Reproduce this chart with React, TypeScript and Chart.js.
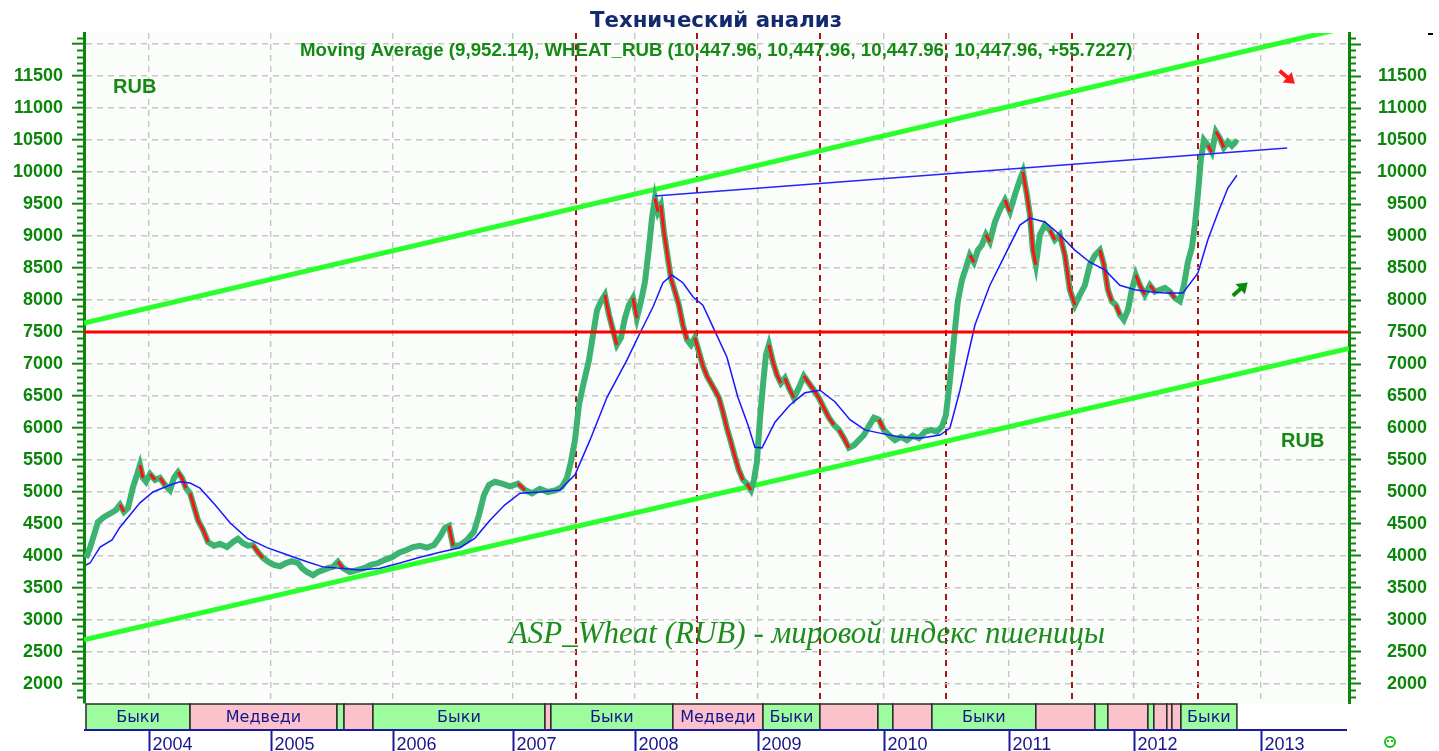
import React, { useEffect, useRef } from 'react';
import { Chart, registerables } from 'chart.js';

Chart.register(...registerables);

// ---------- DATA ----------
// The time axis is a trading-time axis: positions are in "chart years"
const X_MIN = 2003.474;
const X_MAX = 2013.71;
const Y_MIN = 1703;
const Y_MAX = 12172;

const titleText = 'Технический анализ';
const legendText = 'Moving Average (9,952.14), WHEAT_RUB (10,447.96, 10,447.96, 10,447.96, 10,447.96, +55.7227)';
const captionText = 'ASP_Wheat (RUB) - мировой индекс пшеницы';
const unitText = 'RUB';

const yearLabels = ['2004', '2005', '2006', '2007', '2008', '2009', '2010', '2011', '2012', '2013'];
const yearStarts = [2004.0, 2004.987, 2005.974, 2006.945, 2007.932, 2008.927, 2009.947, 2010.958, 2011.969, 2012.997];
const cycleMarks = [2007.455, 2008.434, 2009.429, 2010.448, 2011.468, 2012.487];
const valueTicks = [2000, 2500, 3000, 3500, 4000, 4500, 5000, 5500, 6000, 6500, 7000, 7500, 8000, 8500, 9000, 9500, 10000, 10500, 11000, 11500, 12000];

const priceYears = [
  2003.490, 2003.523, 2003.555, 2003.587, 2003.636, 2003.684, 2003.733, 2003.765, 2003.798, 2003.830,
  2003.871, 2003.903, 2003.927, 2003.951, 2003.976, 2004.008, 2004.049, 2004.089, 2004.129, 2004.170,
  2004.202, 2004.235, 2004.267, 2004.299, 2004.332, 2004.364, 2004.396, 2004.437, 2004.477, 2004.526,
  2004.574, 2004.631, 2004.680, 2004.720, 2004.761, 2004.801, 2004.841, 2004.882, 2004.922, 2004.963,
  2005.011, 2005.060, 2005.108, 2005.157, 2005.206, 2005.238, 2005.278, 2005.327, 2005.367, 2005.408,
  2005.448, 2005.489, 2005.529, 2005.570, 2005.626, 2005.683, 2005.739, 2005.796, 2005.853, 2005.909,
  2005.966, 2006.023, 2006.079, 2006.136, 2006.193, 2006.249, 2006.306, 2006.354, 2006.395, 2006.427,
  2006.460, 2006.516, 2006.573, 2006.629, 2006.670, 2006.710, 2006.751, 2006.799, 2006.856, 2006.921,
  2006.985, 2007.042, 2007.099, 2007.163, 2007.228, 2007.293, 2007.341, 2007.382, 2007.414, 2007.447,
  2007.479, 2007.519, 2007.560, 2007.592, 2007.625, 2007.657, 2007.689, 2007.722, 2007.754, 2007.786,
  2007.819, 2007.851, 2007.883, 2007.916, 2007.948, 2007.981, 2008.013, 2008.045, 2008.070, 2008.094,
  2008.118, 2008.142, 2008.167, 2008.191, 2008.223, 2008.256, 2008.288, 2008.320, 2008.353, 2008.385,
  2008.417, 2008.450, 2008.482, 2008.515, 2008.547, 2008.579, 2008.612, 2008.644, 2008.676, 2008.709,
  2008.741, 2008.773, 2008.806, 2008.838, 2008.871, 2008.895, 2008.919, 2008.943, 2008.968, 2008.992,
  2009.016, 2009.049, 2009.081, 2009.113, 2009.146, 2009.178, 2009.218, 2009.259, 2009.299, 2009.340,
  2009.380, 2009.421, 2009.461, 2009.502, 2009.542, 2009.583, 2009.623, 2009.663, 2009.704, 2009.744,
  2009.785, 2009.825, 2009.866, 2009.906, 2009.947, 2009.987, 2010.036, 2010.084, 2010.133, 2010.181,
  2010.230, 2010.278, 2010.327, 2010.375, 2010.416, 2010.448, 2010.481, 2010.513, 2010.545, 2010.578,
  2010.610, 2010.642, 2010.675, 2010.707, 2010.739, 2010.772, 2010.804, 2010.845, 2010.885, 2010.926,
  2010.966, 2011.006, 2011.047, 2011.071, 2011.104, 2011.128, 2011.152, 2011.176, 2011.209, 2011.249,
  2011.290, 2011.330, 2011.370, 2011.411, 2011.451, 2011.492, 2011.532, 2011.573, 2011.613, 2011.654,
  2011.694, 2011.727, 2011.759, 2011.791, 2011.824, 2011.856, 2011.888, 2011.921, 2011.953, 2011.985,
  2012.018, 2012.058, 2012.099, 2012.139, 2012.180, 2012.220, 2012.261, 2012.301, 2012.341, 2012.374,
  2012.406, 2012.438, 2012.463, 2012.487, 2012.511, 2012.536, 2012.568, 2012.600, 2012.633, 2012.665,
  2012.697, 2012.730, 2012.762, 2012.794, 2012.811,
];
const priceValues = [
  3970, 4130, 4330, 4530, 4610, 4660, 4720, 4800, 4690, 4750,
  5080, 5270, 5420, 5220, 5160, 5280, 5190, 5220, 5110, 5030,
  5220, 5310, 5220, 5060, 4980, 4770, 4560, 4410, 4220, 4160,
  4190, 4140, 4220, 4270, 4200, 4160, 4170, 4060, 3970, 3910,
  3860, 3840, 3890, 3920, 3890, 3810, 3750, 3700, 3750, 3780,
  3810, 3830, 3910, 3810, 3750, 3780, 3810, 3860, 3890, 3940,
  3980, 4050, 4090, 4140, 4160, 4130, 4170, 4300, 4440, 4470,
  4160, 4170, 4250, 4380, 4640, 4950, 5110, 5160, 5130, 5090,
  5130, 5030, 4980, 5050, 5000, 5030, 5080, 5220, 5470, 5810,
  6360, 6720, 7060, 7450, 7840, 7980, 8080, 7770, 7530, 7300,
  7410, 7720, 7920, 8030, 7720, 7980, 8280, 8810, 9280, 9590,
  9380, 9480, 9060, 8750, 8340, 8130, 7920, 7610, 7380, 7300,
  7410, 7190, 6970, 6810, 6700, 6590, 6470, 6250, 6000, 5780,
  5550, 5340, 5190, 5130, 5030, 5190, 5470, 6130, 6670, 7140,
  7300, 7030, 6830, 6700, 6780, 6630, 6470, 6630, 6810, 6700,
  6590, 6470, 6310, 6160, 6050, 5970, 5840, 5690, 5730, 5810,
  5890, 6030, 6160, 6130, 5970, 5890, 5810, 5860, 5810, 5880,
  5840, 5940, 5970, 5940, 6020, 6200, 6750, 7380, 7980, 8310,
  8500, 8700, 8590, 8780, 8860, 9020, 8910, 9220, 9410, 9560,
  9380, 9640, 9880, 10000, 9640, 9330, 8780, 8550, 9020, 9170,
  9090, 8940, 9020, 8700, 8160, 7920, 8080, 8230, 8550, 8700,
  8780, 8550, 8160, 7980, 7920, 7770, 7690, 7840, 8160, 8390,
  8230, 8080, 8230, 8130, 8160, 8190, 8130, 8030, 7980, 8230,
  8590, 8810, 9170, 9640, 10190, 10500, 10420, 10310, 10630, 10530,
  10380, 10470, 10410, 10470, 10450,
];

const maYears = [
  2003.490, 2003.523, 2003.604, 2003.701, 2003.765, 2003.846, 2003.927, 2004.032, 2004.170, 2004.251,
  2004.332, 2004.413, 2004.534, 2004.655, 2004.793, 2004.955, 2005.117, 2005.278, 2005.408, 2005.545,
  2005.707, 2005.869, 2006.031, 2006.193, 2006.354, 2006.516, 2006.638, 2006.759, 2006.880, 2007.002,
  2007.163, 2007.325, 2007.447, 2007.568, 2007.706, 2007.867, 2007.972, 2008.078, 2008.159, 2008.231,
  2008.320, 2008.401, 2008.482, 2008.563, 2008.676, 2008.765, 2008.846, 2008.903, 2008.960, 2009.065,
  2009.186, 2009.307, 2009.429, 2009.550, 2009.672, 2009.793, 2009.914, 2010.076, 2010.238, 2010.400,
  2010.481, 2010.562, 2010.683, 2010.804, 2010.926, 2011.047, 2011.128, 2011.249, 2011.370, 2011.492,
  2011.613, 2011.735, 2011.856, 2011.977, 2012.099, 2012.220, 2012.366, 2012.487, 2012.568, 2012.649,
  2012.730, 2012.803,
];
const maValues = [
  3860, 3890, 4140, 4250, 4450, 4640, 4830, 5000, 5110, 5160,
  5140, 5060, 4800, 4520, 4280, 4130, 4020, 3910, 3830, 3810,
  3780, 3810, 3890, 3980, 4060, 4130, 4280, 4560, 4800, 4980,
  5000, 5030, 5270, 5810, 6480, 7060, 7480, 7890, 8270, 8390,
  8270, 8050, 7920, 7580, 7110, 6480, 6050, 5700, 5690, 6090,
  6360, 6550, 6590, 6410, 6130, 5970, 5920, 5860, 5840, 5890,
  6000, 6590, 7610, 8230, 8700, 9170, 9280, 9220, 9020, 8780,
  8590, 8470, 8230, 8160, 8130, 8110, 8110, 8420, 8940, 9360,
  9750, 9950,
];

const channelYears = [2003.474, 2013.71];
const upperChannel = [7640, 12267];
const lowerChannel = [2690, 7245];
const resistanceYears = [2008.094, 2013.21];
const resistanceValues = [9625, 10375];
const supportLevel = 7500;

const bandStarts = [2003.490, 2004.332, 2005.521, 2005.578, 2005.812, 2007.204, 2007.252, 2008.239, 2008.968, 2009.429, 2009.898, 2010.019, 2010.335, 2011.176, 2011.654, 2011.759, 2012.083, 2012.131, 2012.236, 2012.277, 2012.350];
const bandEnds = [2004.332, 2005.521, 2005.578, 2005.812, 2007.204, 2007.252, 2008.239, 2008.968, 2009.429, 2009.898, 2010.019, 2010.335, 2011.176, 2011.654, 2011.759, 2012.083, 2012.131, 2012.236, 2012.277, 2012.350, 2012.803];
const bandKinds = ['bull', 'bear', 'bull', 'bear', 'bull', 'bear', 'bull', 'bear', 'bull', 'bear', 'bull', 'bear', 'bull', 'bear', 'bull', 'bear', 'bull', 'bear', 'bear', 'bear', 'bull'];
const bandLabels = ['Быки', 'Медведи', '', '', 'Быки', '', 'Быки', 'Медведи', 'Быки', '', '', '', 'Быки', '', '', '', '', '', '', '', 'Быки'];

const downArrow = { year: 2013.21, value: 11480 };
const upArrow = { year: 2012.83, value: 8170 };

// ---------- STYLE ----------
const AXIS_GREEN = '#0a870a';
const NAVY = '#16168c';

const toPts = (xs: number[], ys: number[]) => xs.map((x, i) => ({ x, y: ys[i] }));
const isCycle = (v: number) => cycleMarks.some((m) => Math.abs(m - v) < 1e-6);

function drawArrow(ctx: CanvasRenderingContext2D, x: number, y: number, dx: number, dy: number, color: string) {
  const len = 20;
  const n = Math.hypot(dx, dy);
  const ux = dx / n;
  const uy = dy / n;
  const tipX = x + (ux * len) / 2;
  const tipY = y + (uy * len) / 2;
  const tailX = x - (ux * len) / 2;
  const tailY = y - (uy * len) / 2;
  ctx.save();
  ctx.strokeStyle = color;
  ctx.fillStyle = color;
  ctx.lineWidth = 4;
  ctx.beginPath();
  ctx.moveTo(tailX, tailY);
  ctx.lineTo(tipX - ux * 7, tipY - uy * 7);
  ctx.stroke();
  const px = -uy;
  const py = ux;
  ctx.beginPath();
  ctx.moveTo(tipX, tipY);
  ctx.lineTo(tipX - ux * 10 + px * 7, tipY - uy * 10 + py * 7);
  ctx.lineTo(tipX - ux * 10 - px * 7, tipY - uy * 10 - py * 7);
  ctx.closePath();
  ctx.fill();
  ctx.restore();
}

const decor = {
  id: 'decor',
  beforeDraw(chart: any) {
    const { ctx, chartArea } = chart;
    ctx.save();
    ctx.fillStyle = '#ffffff';
    ctx.fillRect(0, 0, chart.width, chart.height);
    ctx.fillStyle = '#fbfdfb';
    ctx.fillRect(chartArea.left, chartArea.top, chartArea.right - chartArea.left, chartArea.bottom - chartArea.top);
    ctx.restore();
  },
  afterDraw(chart: any) {
    const { ctx, chartArea } = chart;
    const xs = chart.scales.x;
    const ys = chart.scales.y;
    ctx.save();

    // minor ticks on both value axes
    ctx.strokeStyle = AXIS_GREEN;
    ctx.lineWidth = 2;
    for (let v = 1800; v <= 12100; v += 100) {
      if (v % 500 === 0) continue;
      const py = Math.round(ys.getPixelForValue(v)) + 0.5;
      ctx.beginPath();
      ctx.moveTo(chartArea.left - 7, py);
      ctx.lineTo(chartArea.left, py);
      ctx.moveTo(chartArea.right, py);
      ctx.lineTo(chartArea.right + 7, py);
      ctx.stroke();
    }

    // title
    ctx.fillStyle = '#142a6e';
    ctx.font = 'bold 21.3px "DejaVu Sans"';
    ctx.textAlign = 'center';
    ctx.textBaseline = 'middle';
    ctx.fillText(titleText, 716, 21);

    // legend line
    ctx.fillStyle = '#148a14';
    ctx.font = 'bold 18.7px "Liberation Sans"';
    ctx.textAlign = 'left';
    ctx.fillText(legendText, 300, 51);

    // unit labels
    ctx.font = 'bold 20px "Liberation Sans"';
    ctx.fillText(unitText, 113, 87);
    ctx.fillText(unitText, 1281, 441);

    // caption
    ctx.fillStyle = '#1c8c1c';
    ctx.font = 'italic 31px "Liberation Serif"';
    ctx.textAlign = 'center';
    ctx.fillText(captionText, 807, 635);

    // arrows
    drawArrow(ctx, xs.getPixelForValue(downArrow.year), ys.getPixelForValue(downArrow.value), 1, 0.85, '#ff1a1a');
    drawArrow(ctx, xs.getPixelForValue(upArrow.year), ys.getPixelForValue(upArrow.value), 1, -0.9, '#0a8a0a');

    // bulls / bears band
    const bandTop = chartArea.bottom + 1;
    const bandBottom = chartArea.bottom + 27;
    ctx.font = '16px "DejaVu Sans"';
    ctx.textAlign = 'center';
    ctx.textBaseline = 'middle';
    for (let i = 0; i < bandStarts.length; i++) {
      const x0 = xs.getPixelForValue(bandStarts[i]);
      const x1 = xs.getPixelForValue(bandEnds[i]);
      ctx.fillStyle = bandKinds[i] === 'bull' ? '#9dfc9d' : '#fbc2cc';
      ctx.fillRect(x0, bandTop, x1 - x0, bandBottom - bandTop);
      ctx.strokeStyle = '#2a2a2a';
      ctx.lineWidth = 1.5;
      ctx.strokeRect(x0, bandTop, x1 - x0, bandBottom - bandTop);
      if (bandLabels[i]) {
        ctx.fillStyle = NAVY;
        ctx.fillText(bandLabels[i], (x0 + x1) / 2, (bandTop + bandBottom) / 2 + 1);
      }
    }

    // time axis baseline + year labels
    ctx.strokeStyle = '#1a1aa0';
    ctx.lineWidth = 2;
    ctx.beginPath();
    ctx.moveTo(chartArea.left, bandBottom);
    ctx.lineTo(chartArea.right - 2, bandBottom);
    ctx.stroke();
    ctx.font = '18px "Liberation Sans"';
    ctx.textAlign = 'left';
    ctx.textBaseline = 'alphabetic';
    ctx.fillStyle = NAVY;
    for (let i = 0; i < yearStarts.length; i++) {
      const px = Math.round(xs.getPixelForValue(yearStarts[i])) + 0.5;
      ctx.beginPath();
      ctx.moveTo(px, bandBottom);
      ctx.lineTo(px, chart.height);
      ctx.stroke();
      ctx.fillText(yearLabels[i], px + 3, 750);
    }

    // small status smiley
    ctx.strokeStyle = '#22b822';
    ctx.lineWidth = 2;
    ctx.beginPath();
    ctx.arc(1390, 742, 5, 0, Math.PI * 2);
    ctx.stroke();
    ctx.fillStyle = '#22b822';
    ctx.fillRect(1387, 740, 2, 2);
    ctx.fillRect(1391, 740, 2, 2);

    // tiny dash top right
    ctx.fillStyle = '#000';
    ctx.fillRect(1428, 33, 5, 2);

    ctx.restore();
  },
};

export default function App() {
  const ref = useRef<HTMLCanvasElement | null>(null);

  useEffect(() => {
    if (!ref.current) return;
    const price = toPts(priceYears, priceValues);
    const common = { pointRadius: 0, pointHoverRadius: 0, tension: 0, fill: false };
    const yTickBuilder = (s: any) => {
      s.ticks = valueTicks.map((v) => ({ value: v }));
    };
    const chart = new Chart(ref.current, {
      type: 'line',
      data: {
        datasets: [
          { ...common, label: 'support', data: toPts(channelYears, [supportLevel, supportLevel]), borderColor: '#ff0000', borderWidth: 3 },
          { ...common, label: 'resistance', data: toPts(resistanceYears, resistanceValues), borderColor: '#2424ff', borderWidth: 1.5 },
          { ...common, label: 'Moving Average', data: toPts(maYears, maValues), borderColor: '#1818ff', borderWidth: 1.5 },
          {
            ...common,
            label: 'down',
            data: price,
            borderColor: 'transparent',
            borderWidth: 3,
            segment: {
              borderColor: (c: any) => (c.p1.parsed.y < c.p0.parsed.y - 80 ? '#ff1212' : 'transparent'),
            },
          },
          { ...common, label: 'WHEAT_RUB', data: price, borderColor: '#3cb371', borderWidth: 6 },
          { ...common, label: 'upper', data: toPts(channelYears, upperChannel), borderColor: '#2bff2b', borderWidth: 5 },
          { ...common, label: 'lower', data: toPts(channelYears, lowerChannel), borderColor: '#2bff2b', borderWidth: 5 },
        ],
      },
      options: {
        responsive: false,
        animation: false,
        events: [],
        layout: { padding: { top: 33, left: 0, right: 12, bottom: 0 } },
        plugins: { legend: { display: false }, tooltip: { enabled: false }, title: { display: false } },
        scales: {
          x: {
            type: 'linear',
            min: X_MIN,
            max: X_MAX,
            afterBuildTicks: (s: any) => {
              s.ticks = [...yearStarts, ...cycleMarks].sort((a, b) => a - b).map((v) => ({ value: v }));
            },
            afterFit: (s: any) => {
              s.height = 48;
            },
            ticks: { display: false },
            grid: {
              drawTicks: false,
              color: (c: any) => (c.tick && isCycle(c.tick.value) ? '#a81414' : '#c6c6c6'),
              lineWidth: (c: any) => (c.tick && isCycle(c.tick.value) ? 2 : 1.4),
            },
            border: { display: false, dash: [6, 5] },
          },
          y: {
            type: 'linear',
            position: 'left',
            min: Y_MIN,
            max: Y_MAX,
            afterBuildTicks: yTickBuilder,
            afterFit: (s: any) => {
              s.width = 84;
            },
            ticks: {
              color: AXIS_GREEN,
              font: { family: 'Liberation Sans', size: 18, weight: 'bold' },
              padding: 9,
              callback: (v: any) => (v === 12000 ? '' : String(v)),
            },
            grid: { color: '#c6c6c6', lineWidth: 1.4, tickLength: 12, tickColor: AXIS_GREEN, tickWidth: 2 },
            border: { display: true, color: AXIS_GREEN, width: 3, dash: [6, 5] },
          },
          y2: {
            type: 'linear',
            position: 'right',
            min: Y_MIN,
            max: Y_MAX,
            afterBuildTicks: yTickBuilder,
            afterFit: (s: any) => {
              s.width = 78;
            },
            ticks: {
              color: AXIS_GREEN,
              font: { family: 'Liberation Sans', size: 18, weight: 'bold' },
              padding: 16,
              crossAlign: 'far',
              callback: (v: any) => (v === 12000 ? '' : String(v)),
            },
            grid: { drawOnChartArea: false, tickLength: 12, tickColor: AXIS_GREEN, tickWidth: 2 },
            border: { display: true, color: AXIS_GREEN, width: 3 },
          },
        },
      } as any,
      plugins: [decor],
    });
    return () => chart.destroy();
  }, []);

  return (
    <div style={{ position: 'fixed', left: 0, top: 0, width: 1439, height: 751, background: '#fff' }}>
      <canvas ref={ref} width={1439} height={751} style={{ display: 'block', width: 1439, height: 751 }} />
    </div>
  );
}
